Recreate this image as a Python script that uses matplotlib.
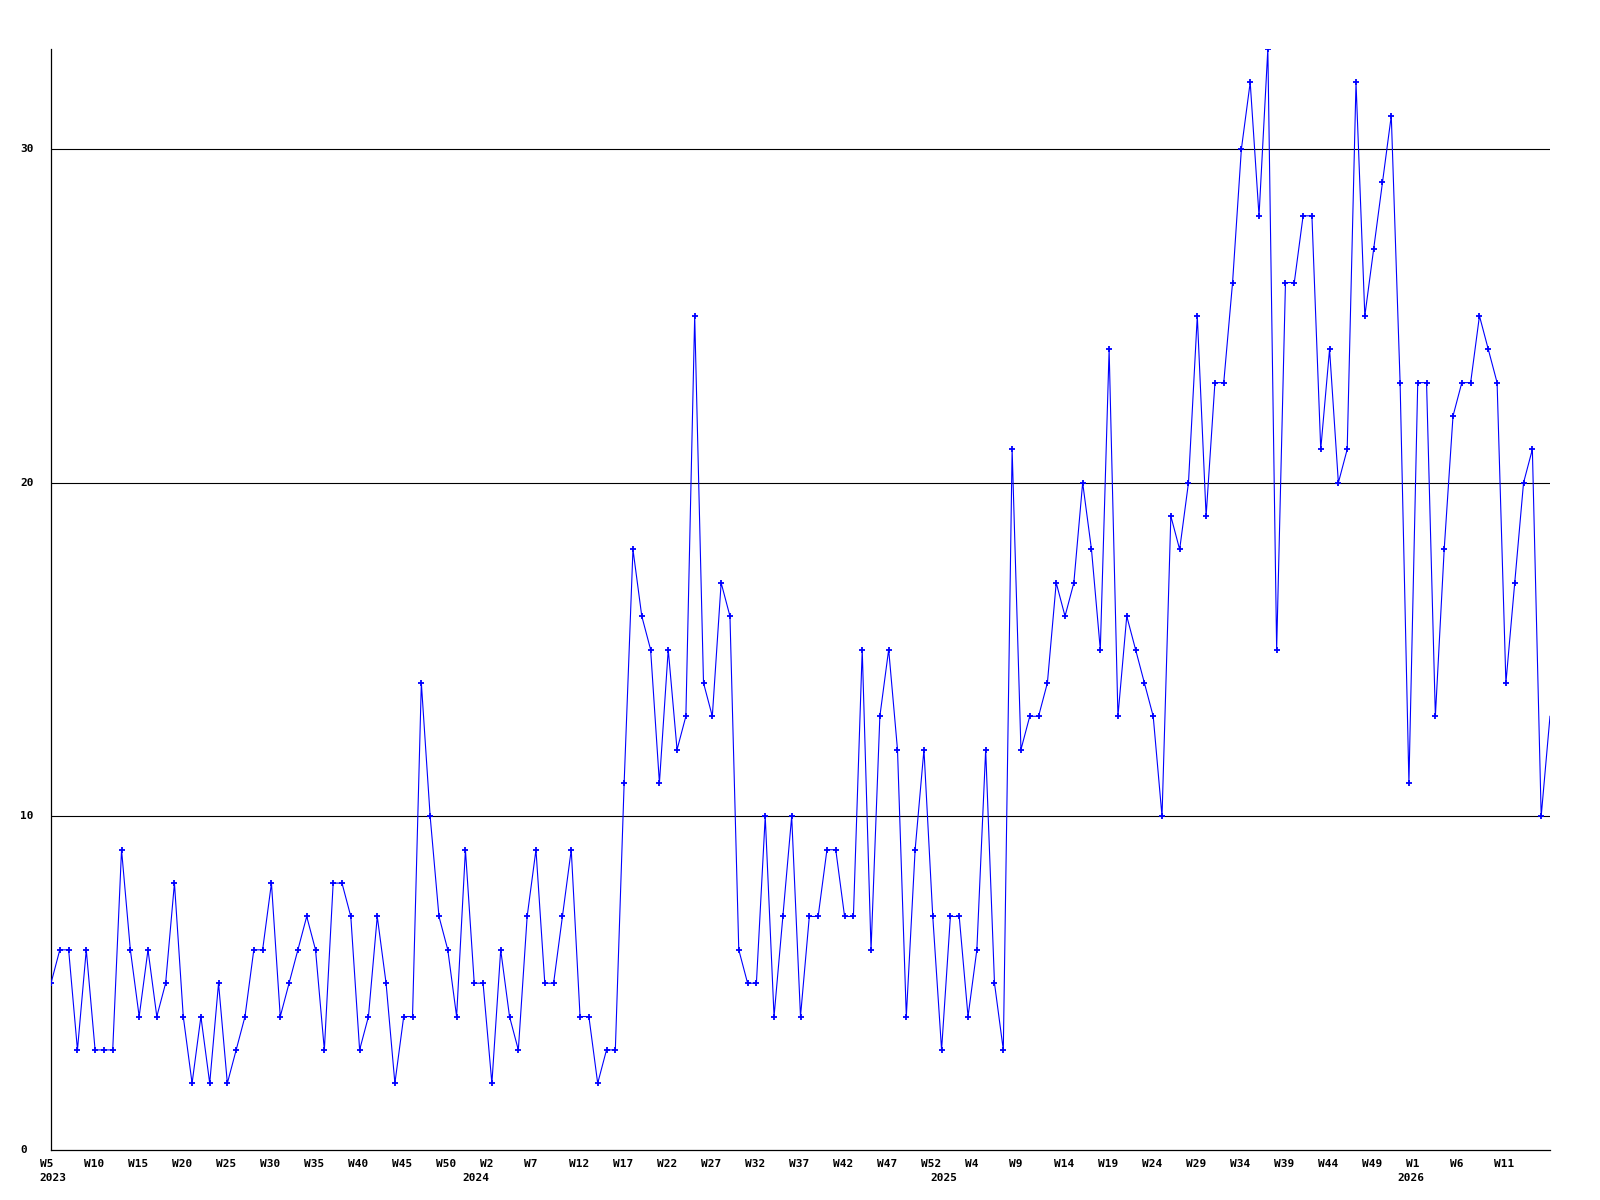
import numpy as np
import matplotlib
matplotlib.use("Agg")
import matplotlib.pyplot as plt
import matplotlib.transforms as mtransforms

## valores semanales (2023 W5 .. 2026 W16)
vals_2023 = [5, 6, 6, 3, 6, 3, 3, 3, 9, 6, 4, 6, 4, 5, 8, 4, 2, 4, 2, 5,
             2, 3, 4, 6, 6, 8, 4, 5, 6, 7, 6, 3, 8, 8, 7, 3, 4, 7, 5, 2,
             4, 4, 14, 10, 7, 6, 4, 9, 5]
vals_2024 = [5, 2, 6, 4, 3, 7, 9, 5, 5, 7, 9, 4, 4, 2, 3, 3, 11, 18, 16,
             15, 11, 15, 12, 13, 25, 14, 13, 17, 16, 6, 5, 5, 10, 4, 7, 10, 4, 7, 7,
             9, 9, 7, 7, 15, 6, 13, 15, 12, 4, 9, 12, 7, 3]
vals_2025 = [7, 7, 4, 6, 12, 5, 3, 21, 12, 13, 13, 14, 17, 16, 17, 20, 18, 15,
             24, 13, 16, 15, 14, 13, 10, 19, 18, 20, 25, 19, 23, 23, 26, 30, 32, 28, 33, 15,
             26, 26, 28, 28, 21, 24, 20, 21, 32, 25, 27, 29, 31, 23, 11]
vals_2026 = [23, 23, 13, 18, 22, 23, 23, 25, 24, 23, 14, 17, 20, 21, 10, 13]

week_labels = ["W5", "W10", "W15", "W20", "W25", "W30", "W35", "W40", "W45", "W50",
               "W2", "W7", "W12", "W17", "W22", "W27", "W32", "W37", "W42", "W47",
               "W52", "W4", "W9", "W14", "W19", "W24", "W29", "W34", "W39", "W44",
               "W49", "W1", "W6", "W11"]
years = ["2023", "2024", "2025", "2026"]

values = vals_2023 + vals_2024 + vals_2025 + vals_2026
x = np.arange(len(values))
week_ticks = x[::5][:len(week_labels)]
# el año aparece en la ultima semana del año anterior
year_pos = [0] + list(np.cumsum([len(vals_2023), len(vals_2024), len(vals_2025)]) - 1)

fig = plt.figure(figsize=(16, 12), dpi=100)
ax = fig.add_axes([51 / 1600, 50 / 1200, 1499 / 1600, 1101 / 1200])

for v in [10, 20, 30]:
    ax.axhline(v, color="black", lw=0.8, zorder=1)

ax.plot(x, values, color="#0000ff", lw=0.8, zorder=3)
ax.plot(x[:-1], values[:-1], ls="none", marker="+", ms=4, mew=1.3,
        color="#0000ff", zorder=4)

ax.set_xlim(0, len(values) - 1)
ax.set_ylim(0, 33)
for s in ["top", "right"]:
    ax.spines[s].set_visible(False)
for s in ["left", "bottom"]:
    ax.spines[s].set_linewidth(0.9)
    ax.spines[s].set_color("black")
ax.set_xticks([])
ax.set_yticks([])

font = dict(family="DejaVu Sans Mono", weight="bold", size=8)

# etiquetas del eje x
base = ax.get_xaxis_transform()
off_w = mtransforms.ScaledTranslation(-11.5 / 100, -9 / 100, fig.dpi_scale_trans)
off_y = mtransforms.ScaledTranslation(-11.5 / 100, -23 / 100, fig.dpi_scale_trans)
for t, lab in zip(week_ticks, week_labels):
    ax.text(t, 0, lab, transform=base + off_w, ha="left", va="top",
            clip_on=False, **font)
for p, yr in zip(year_pos, years):
    ax.text(p, 0, yr, transform=base + off_y, ha="left", va="top",
            clip_on=False, **font)

# etiquetas del eje y
ybase = ax.get_yaxis_transform()
off_l = mtransforms.ScaledTranslation(-31 / 100, 0, fig.dpi_scale_trans)
for v in [0, 10, 20, 30]:
    ax.text(0, v, str(v), transform=ybase + off_l, ha="left", va="center",
            clip_on=False, **font)

fig.savefig("out.png", dpi=100, facecolor="white")
